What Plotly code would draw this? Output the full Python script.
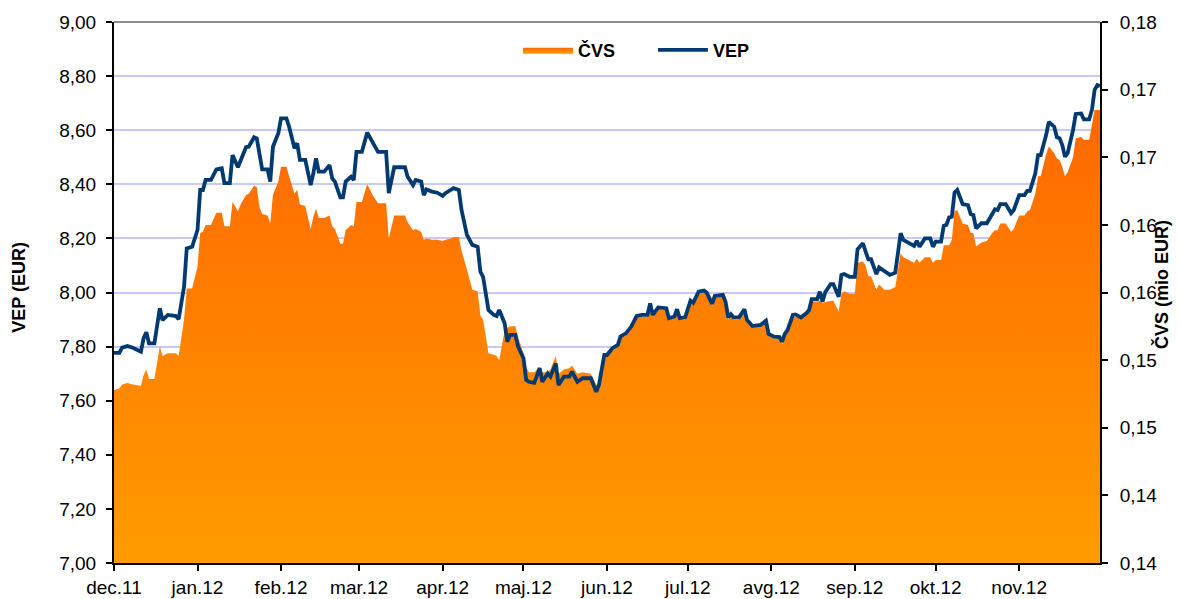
import plotly.graph_objects as go

# ---------------- data ----------------
dates = [
    "2011-12-01", "2011-12-03", "2011-12-04", "2011-12-06", "2011-12-08", "2011-12-11",
    "2011-12-12", "2011-12-13", "2011-12-14", "2011-12-16", "2011-12-18", "2011-12-19",
    "2011-12-21", "2011-12-24", "2011-12-25", "2011-12-27", "2011-12-28", "2011-12-30",
    "2012-01-01", "2012-01-02", "2012-01-03", "2012-01-04", "2012-01-06", "2012-01-08",
    "2012-01-10", "2012-01-11", "2012-01-13", "2012-01-14", "2012-01-16", "2012-01-17",
    "2012-01-19", "2012-01-20", "2012-01-22", "2012-01-23", "2012-01-24", "2012-01-25",
    "2012-01-27", "2012-01-28", "2012-01-29", "2012-01-31",
    "2012-02-01", "2012-02-03", "2012-02-04", "2012-02-06", "2012-02-07", "2012-02-08",
    "2012-02-10", "2012-02-12", "2012-02-13", "2012-02-14", "2012-02-15", "2012-02-17",
    "2012-02-19", "2012-02-20", "2012-02-21", "2012-02-23", "2012-02-24", "2012-02-25",
    "2012-02-27", "2012-02-28", "2012-02-29",
    "2012-03-02", "2012-03-04", "2012-03-06", "2012-03-08", "2012-03-11", "2012-03-12",
    "2012-03-14", "2012-03-16", "2012-03-18", "2012-03-19", "2012-03-21", "2012-03-22",
    "2012-03-24", "2012-03-25", "2012-03-26", "2012-03-28", "2012-03-30",
    "2012-04-01", "2012-04-02", "2012-04-04", "2012-04-05", "2012-04-07", "2012-04-08",
    "2012-04-10", "2012-04-12", "2012-04-14", "2012-04-15", "2012-04-16", "2012-04-18",
    "2012-04-20", "2012-04-21", "2012-04-22", "2012-04-24", "2012-04-25", "2012-04-26",
    "2012-04-28", "2012-04-29",
    "2012-05-01", "2012-05-02", "2012-05-03", "2012-05-05", "2012-05-07", "2012-05-08",
    "2012-05-10", "2012-05-11", "2012-05-13", "2012-05-14", "2012-05-16", "2012-05-18",
    "2012-05-19", "2012-05-21", "2012-05-23", "2012-05-26", "2012-05-28", "2012-05-29",
    "2012-05-31",
    "2012-06-01", "2012-06-03", "2012-06-05", "2012-06-06", "2012-06-08", "2012-06-10",
    "2012-06-12", "2012-06-14", "2012-06-16", "2012-06-17", "2012-06-18", "2012-06-20",
    "2012-06-23", "2012-06-24", "2012-06-26", "2012-06-27", "2012-06-28", "2012-06-30",
    "2012-07-02", "2012-07-03", "2012-07-05", "2012-07-07", "2012-07-08", "2012-07-10",
    "2012-07-11", "2012-07-14", "2012-07-15", "2012-07-16", "2012-07-17", "2012-07-18",
    "2012-07-20", "2012-07-22", "2012-07-23", "2012-07-25", "2012-07-28", "2012-07-30",
    "2012-07-31",
    "2012-08-02", "2012-08-04", "2012-08-05", "2012-08-06", "2012-08-07", "2012-08-09",
    "2012-08-10", "2012-08-12", "2012-08-14", "2012-08-15", "2012-08-16", "2012-08-18",
    "2012-08-19", "2012-08-20", "2012-08-21", "2012-08-23", "2012-08-24", "2012-08-26",
    "2012-08-27", "2012-08-28", "2012-08-30",
    "2012-09-01", "2012-09-02", "2012-09-04", "2012-09-05", "2012-09-06", "2012-09-07",
    "2012-09-09", "2012-09-10", "2012-09-12", "2012-09-14", "2012-09-16", "2012-09-17",
    "2012-09-18", "2012-09-19", "2012-09-21", "2012-09-23", "2012-09-24", "2012-09-25",
    "2012-09-27", "2012-09-29", "2012-09-30",
    "2012-10-01", "2012-10-03", "2012-10-04", "2012-10-05", "2012-10-06", "2012-10-07",
    "2012-10-08", "2012-10-09", "2012-10-11", "2012-10-13", "2012-10-14", "2012-10-15",
    "2012-10-16", "2012-10-18", "2012-10-20", "2012-10-22", "2012-10-23", "2012-10-24",
    "2012-10-25", "2012-10-27", "2012-10-29", "2012-10-30",
    "2012-11-01", "2012-11-03", "2012-11-04", "2012-11-05", "2012-11-07", "2012-11-08",
    "2012-11-09", "2012-11-11", "2012-11-12", "2012-11-14", "2012-11-15", "2012-11-16",
    "2012-11-17", "2012-11-18", "2012-11-19", "2012-11-21", "2012-11-22", "2012-11-24",
    "2012-11-25", "2012-11-27", "2012-11-28", "2012-11-29", "2012-11-30",
    "2012-12-01",
]

vep = [
    7.777, 7.777, 7.796, 7.802, 7.796, 7.781, 7.831, 7.853, 7.812, 7.812, 7.942, 7.898,
    7.917, 7.913, 7.901, 8.021, 8.163, 8.169,
    8.231, 8.379, 8.379, 8.416, 8.416, 8.455, 8.459, 8.404, 8.404, 8.508, 8.463, 8.490,
    8.537, 8.539, 8.574, 8.570, 8.502, 8.455, 8.455, 8.410, 8.539, 8.589,
    8.644, 8.644, 8.613, 8.533, 8.552, 8.490, 8.490, 8.397, 8.441, 8.496, 8.447, 8.447,
    8.471, 8.422, 8.410, 8.352, 8.352, 8.410, 8.428, 8.416, 8.520,
    8.520, 8.591, 8.552, 8.520, 8.520, 8.367, 8.463, 8.463, 8.463, 8.428, 8.397, 8.416,
    8.410, 8.360, 8.381, 8.373, 8.369,
    8.357, 8.367, 8.379, 8.386, 8.379, 8.305, 8.213, 8.176, 8.169, 8.077, 8.058, 7.935,
    7.917, 7.913, 7.935, 7.886, 7.818, 7.843, 7.843, 7.800,
    7.757, 7.677, 7.670, 7.666, 7.720, 7.670, 7.701, 7.689, 7.738, 7.658, 7.689, 7.689,
    7.707, 7.670, 7.683, 7.683, 7.633, 7.658, 7.769,
    7.769, 7.794, 7.806, 7.837, 7.849, 7.874, 7.913, 7.917, 7.917, 7.960, 7.917, 7.945,
    7.942, 7.905, 7.911, 7.938, 7.905, 7.908,
    7.970, 7.962, 8.003, 8.007, 8.000, 7.958, 7.987, 7.991, 7.966, 7.908, 7.920, 7.908,
    7.908, 7.938, 7.898, 7.876, 7.880, 7.896, 7.847,
    7.837, 7.835, 7.818, 7.847, 7.861, 7.917, 7.919, 7.908, 7.923, 7.935, 7.975, 7.975,
    8.003, 7.966, 8.001, 8.031, 8.031, 7.984, 8.065, 8.068, 8.058,
    8.058, 8.160, 8.182, 8.151, 8.123, 8.123, 8.068, 8.093, 8.077, 8.065, 8.073, 8.157,
    8.219, 8.194, 8.184, 8.172, 8.191, 8.169, 8.200, 8.200, 8.169,
    8.188, 8.188, 8.246, 8.250, 8.278, 8.280, 8.369, 8.379, 8.327, 8.323, 8.290, 8.286,
    8.237, 8.256, 8.256, 8.290, 8.308, 8.305, 8.327, 8.327, 8.293, 8.305,
    8.360, 8.360, 8.376, 8.376, 8.441, 8.508, 8.508, 8.582, 8.631, 8.613, 8.574, 8.570,
    8.545, 8.502, 8.515, 8.601, 8.660, 8.662, 8.640, 8.640, 8.675, 8.749, 8.767,
    8.763,
]

cvs = [
    0.1528, 0.1529, 0.1532, 0.1533, 0.1532, 0.1531, 0.1539, 0.1543, 0.1536, 0.1536, 0.1560, 0.1553,
    0.1555, 0.1555, 0.1553, 0.1580, 0.1603, 0.1603,
    0.1619, 0.1644, 0.1645, 0.1650, 0.1650, 0.1659, 0.1659, 0.1649, 0.1649, 0.1667, 0.1660, 0.1665,
    0.1672, 0.1673, 0.1679, 0.1678, 0.1663, 0.1658, 0.1657, 0.1651, 0.1672, 0.1682,
    0.1693, 0.1693, 0.1686, 0.1673, 0.1676, 0.1665, 0.1664, 0.1647, 0.1656, 0.1662, 0.1655, 0.1655,
    0.1657, 0.1649, 0.1647, 0.1636, 0.1636, 0.1646, 0.1650, 0.1649, 0.1667,
    0.1667, 0.1680, 0.1672, 0.1666, 0.1666, 0.1640, 0.1657, 0.1657, 0.1657, 0.1652, 0.1646, 0.1647,
    0.1645, 0.1639, 0.1640, 0.1639, 0.1639,
    0.1638, 0.1639, 0.1640, 0.1641, 0.1641, 0.1631, 0.1617, 0.1602, 0.1601, 0.1583, 0.1580, 0.1555,
    0.1554, 0.1553, 0.1550, 0.1572, 0.1574, 0.1575, 0.1575, 0.1567,
    0.1555, 0.1545, 0.1541, 0.1541, 0.1545, 0.1541, 0.1541, 0.1543, 0.1553, 0.1540, 0.1543, 0.1544,
    0.1546, 0.1540, 0.1541, 0.1540, 0.1532, 0.1531, 0.1553,
    0.1553, 0.1557, 0.1560, 0.1566, 0.1568, 0.1573, 0.1581, 0.1582, 0.1582, 0.1591, 0.1582, 0.1588,
    0.1587, 0.1580, 0.1581, 0.1586, 0.1580, 0.1580,
    0.1593, 0.1591, 0.1599, 0.1600, 0.1599, 0.1590, 0.1596, 0.1597, 0.1592, 0.1580, 0.1583, 0.1580,
    0.1580, 0.1586, 0.1578, 0.1574, 0.1575, 0.1578, 0.1568,
    0.1566, 0.1566, 0.1562, 0.1569, 0.1571, 0.1582, 0.1582, 0.1581, 0.1583, 0.1586, 0.1593, 0.1593,
    0.1594, 0.1592, 0.1593, 0.1594, 0.1594, 0.1586, 0.1599, 0.1601, 0.1599,
    0.1599, 0.1622, 0.1623, 0.1620, 0.1612, 0.1612, 0.1602, 0.1606, 0.1602, 0.1602, 0.1604, 0.1617,
    0.1629, 0.1626, 0.1624, 0.1622, 0.1625, 0.1622, 0.1626, 0.1626, 0.1622,
    0.1624, 0.1624, 0.1635, 0.1635, 0.1635, 0.1639, 0.1660, 0.1661, 0.1651, 0.1650, 0.1644, 0.1644,
    0.1634, 0.1637, 0.1638, 0.1644, 0.1646, 0.1646, 0.1651, 0.1651, 0.1645, 0.1647,
    0.1657, 0.1657, 0.1660, 0.1661, 0.1673, 0.1686, 0.1686, 0.1702, 0.1708, 0.1703, 0.1699, 0.1698,
    0.1693, 0.1686, 0.1689, 0.1700, 0.1714, 0.1715, 0.1713, 0.1713, 0.1723, 0.1735, 0.1735,
    0.1735,
]

month_ticks = ["2011-12-01", "2012-01-01", "2012-02-01", "2012-03-01", "2012-04-01", "2012-05-01",
               "2012-06-01", "2012-07-01", "2012-08-01", "2012-09-01", "2012-10-01", "2012-11-01"]
month_labels = ["dec.11", "jan.12", "feb.12", "mar.12", "apr.12", "maj.12",
                "jun.12", "jul.12", "avg.12", "sep.12", "okt.12", "nov.12"]
vep_ticks = [7.0, 7.2, 7.4, 7.6, 7.8, 8.0, 8.2, 8.4, 8.6, 8.8, 9.0]
cvs_ticks = [0.14, 0.145, 0.15, 0.155, 0.16, 0.165, 0.17, 0.175, 0.18]
cvs_labels = ["0,14", "0,14", "0,15", "0,15", "0,16", "0,16", "0,17", "0,17", "0,18"]

FONT = "Arial, Liberation Sans, sans-serif"

fig = go.Figure()
fig.add_trace(go.Scatter(
    x=dates, y=cvs, name="ČVS", mode="lines",
    line=dict(width=0, color="#FF7A00"),
    fill="tozeroy",
    fillgradient=dict(type="vertical", start=0.14, stop=0.1735,
                      colorscale=[[0, "#FF9C00"], [1, "#FF6800"]]),
    yaxis="y", hoverinfo="skip",
))
fig.add_trace(go.Scatter(
    x=dates, y=vep, name="VEP", mode="lines",
    line=dict(color="#003A70", width=3.8),
    yaxis="y2", hoverinfo="skip",
))

axis_common = dict(ticks="outside", ticklen=6, tickwidth=2, tickcolor="black",
                   showline=True, linecolor="black", linewidth=2, zeroline=False,
                   automargin=False,
                   tickfont=dict(family=FONT, size=19, color="black"))

fig.update_layout(
    width=1182, height=599,
    margin=dict(l=114, r=82, t=22, b=36),
    paper_bgcolor="white", plot_bgcolor="white",
    separators=",.",
    hovermode=False,
    font=dict(family=FONT, size=18, color="black"),
    legend=dict(orientation="h", x=0.4097, xanchor="left", y=0.948, yanchor="middle",
                font=dict(family=FONT, size=18, color="black", weight="bold"),
                itemwidth=50, entrywidth=70, entrywidthmode="pixels",
                bgcolor="rgba(0,0,0,0)"),
    xaxis=dict(type="date", range=["2011-12-01", "2012-12-01"],
               tickvals=month_ticks, ticktext=month_labels, showgrid=False, **axis_common),
    yaxis=dict(side="right", range=[0.14, 0.18], tickvals=cvs_ticks, ticktext=cvs_labels,
               showgrid=False, ticklabelstandoff=8, **axis_common),
    yaxis2=dict(side="left", overlaying="y", range=[7.0, 9.0], tickvals=vep_ticks,
                tickformat=".2f", showgrid=True, gridcolor="#C9C9F7", gridwidth=1.5,
                ticklabelstandoff=6, **axis_common),
    shapes=[dict(type="line", xref="paper", yref="paper", x0=0, x1=1, y0=1, y1=1,
                 line=dict(color="#8C8C8C", width=2))],
    annotations=[
        dict(text="VEP (EUR)", xref="paper", yref="paper", x=-0.0963, y=0.509,
             textangle=-90, showarrow=False, xanchor="center", yanchor="middle",
             font=dict(family=FONT, size=18, color="black", weight="bold")),
        dict(text="ČVS (mio EUR)", xref="paper", yref="paper", x=1.063, y=0.514,
             textangle=-90, showarrow=False, xanchor="center", yanchor="middle",
             font=dict(family=FONT, size=18, color="black", weight="bold")),
    ],
)

fig.write_html("out.html", config={"displayModeBar": False},
               post_script="document.body.style.margin='0px';")
